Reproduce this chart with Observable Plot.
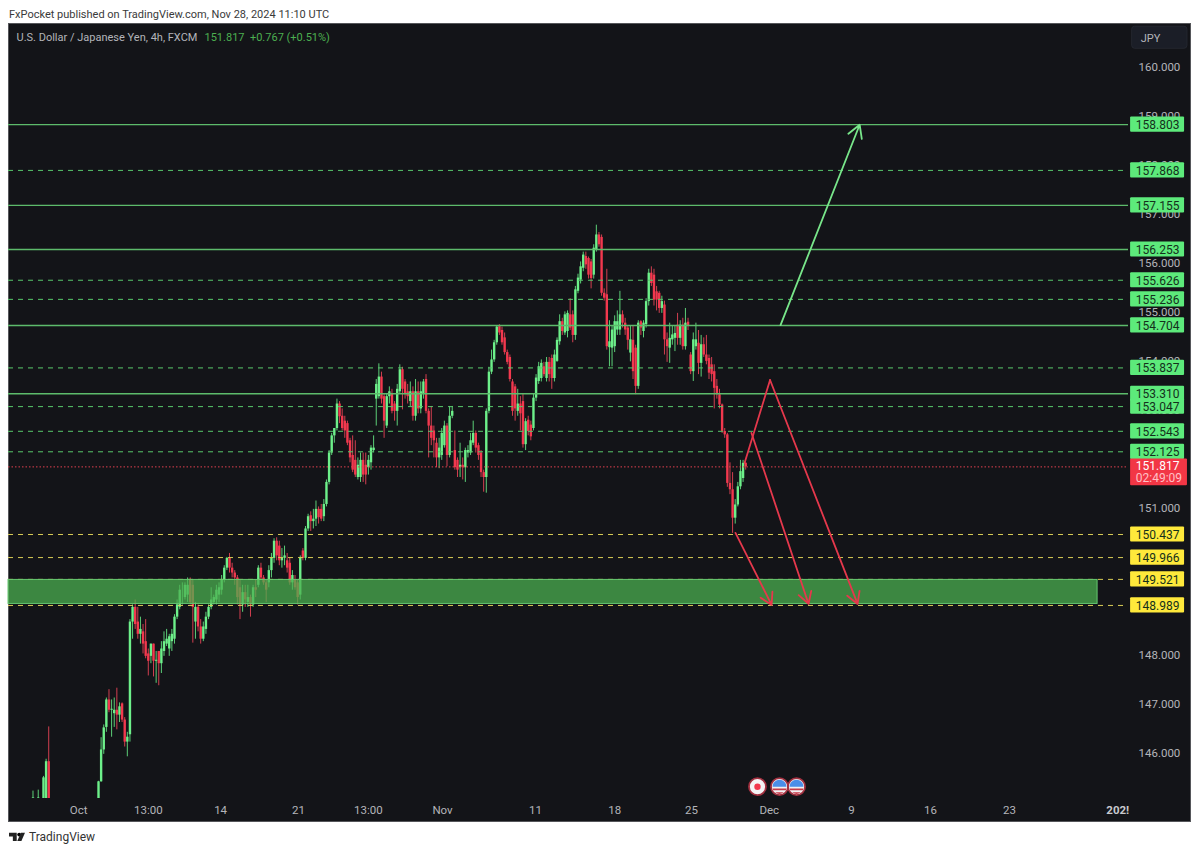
<!DOCTYPE html>
<html>
<head>
<meta charset="utf-8">
<script src="https://cdn.jsdelivr.net/npm/d3@7"></script>
<script src="https://cdn.jsdelivr.net/npm/@observablehq/plot@0.6"></script>
<style>
html,body{margin:0;padding:0;background:#fff;overflow:hidden;width:1200px;height:853px;font-family:Roboto,"Noto Sans",sans-serif}
#head{height:23px;line-height:30px;padding-left:9px;font-size:11px;color:#3a3a3a;box-sizing:border-box;white-space:nowrap}
#chart{margin-left:8px;width:1183px;height:799px}
#chart svg{display:block}
#foot{height:31px;display:flex;align-items:center;padding-left:9px;font-size:12px;color:#333;gap:4px;box-sizing:border-box;padding-bottom:2px}
</style>
</head>
<body>
<div id="head">FxPocket published on TradingView.com, Nov 28, 2024 11:10 UTC</div>
<div id="chart"></div>
<div id="foot"><svg width="16" height="9" viewBox="0 0 29 16"><path fill="#222" d="M0 1h14v15H7V8H0z"/><circle cx="18.5" cy="4.5" r="3.5"/><path fill="#222" d="M15 16 21.5 1H29l-6.5 15z"/></svg><span>TradingView</span></div>
<script>
// bar numbers (4h bars); the bars between 7 and 24 lie under the visible range
const barIndex = [0,2,4,5,6, ...d3.range(25,273)];
const opens = [144.9,144.9,144.9,144.9,145.8,
144.9,145.39,146.04,146.5,147.06,146.85,146.78,146.85,146.75,146.98,
146.65,146.2,146.35,148.65,148.95,148.65,148.4,148.45,148.25,148.0,
147.95,148.2,147.85,148.05,147.8,148.05,148.2,148.1,148.25,148.3,
148.75,148.95,149.3,149.15,149.2,149.5,149.4,148.65,148.95,148.55,
148.3,148.5,148.75,148.95,149.05,149.1,149.2,149.3,149.5,149.75,
149.95,149.75,149.65,149.55,149.35,149.0,149.25,149.05,149.15,149.0,
149.35,149.4,149.75,149.55,149.45,149.45,149.7,149.95,150.3,150.2,
149.9,149.95,149.9,149.85,149.45,149.5,149.45,149.2,150.1,149.95,
150.55,150.82,150.7,150.75,150.95,150.95,150.8,151.05,151.5,152.1,
152.45,152.6,153.1,152.85,152.75,152.7,152.35,152.05,151.95,151.6,
151.6,151.95,151.85,151.8,151.9,152.15,153.2,153.25,153.65,153.25,
152.65,153.25,153.3,153.1,152.95,153.35,153.8,153.55,153.35,153.15,
153.35,152.85,153.35,153.0,153.3,153.6,152.95,152.65,152.55,152.3,
152.0,152.05,152.25,152.65,152.05,152.85,152.15,151.95,151.8,151.85,
151.8,152.1,152.1,152.3,152.5,152.25,152.1,151.7,151.6,152.95,
153.75,154.0,154.35,154.68,154.6,154.45,154.15,154.05,153.55,153.45,
152.95,153.1,153.15,152.27,152.77,152.67,152.6,153.22,153.56,153.62,
153.86,153.62,153.95,154.03,153.62,153.97,154.37,154.78,154.55,154.58,
154.92,154.92,154.5,155.4,155.63,155.87,156.11,156.07,156.0,155.73,
156.25,156.55,156.5,155.36,155.33,154.25,154.24,154.27,154.61,154.61,
154.92,154.75,154.65,154.14,154.4,154.24,153.46,154.78,154.58,154.72,
155.19,155.77,155.73,155.39,155.36,155.05,155.12,154.41,154.24,154.41,
154.44,154.71,154.44,154.71,154.27,154.77,154.1,153.76,154.27,154.34,
153.93,154.31,154.1,154.03,153.9,153.76,153.46,153.29,153.08,152.54,
152.47,151.48,151.35,150.77,151.04,151.41,151.58,151.89];
const highs = [145.2,145.22,145.5,145.85,146.51,
145.4,146.29,146.55,147.1,147.27,147.06,147.1,147.3,147.0,147.0,
146.7,146.4,148.7,149.0,149.1,148.95,148.75,148.6,148.7,148.1,
148.2,148.2,148.05,148.05,148.25,148.45,148.5,148.4,148.5,148.8,
149.1,149.4,149.45,149.45,149.55,149.55,149.5,149.05,149.0,148.7,
148.65,148.85,149.0,149.35,149.2,149.4,149.45,149.6,149.8,149.97,
150.05,149.85,149.7,149.6,149.5,149.4,149.4,149.4,149.2,149.4,
149.5,149.8,149.85,149.6,149.5,149.8,150.05,150.35,150.37,150.3,
150.15,150.2,150.05,149.95,149.7,149.6,149.5,150.0,150.15,150.6,
150.85,150.9,150.95,151.12,151.0,151.05,151.15,151.55,152.15,152.5,
152.6,153.2,153.15,153.0,152.85,152.75,152.4,152.45,152.35,152.0,
152.1,152.1,152.1,152.05,152.25,152.45,153.6,153.92,153.75,153.3,
153.3,153.45,153.4,153.15,153.5,153.9,153.85,153.6,153.5,153.55,
153.45,153.6,153.55,153.55,153.6,153.7,153.0,153.05,152.65,152.4,
152.4,152.6,152.75,152.7,153.05,153.05,152.55,152.0,152.3,152.0,
152.2,152.25,152.5,152.75,152.55,152.3,152.15,151.75,153.0,153.85,
154.2,154.4,154.7,154.72,154.67,154.55,154.2,154.1,153.6,153.5,
153.4,153.25,153.3,152.8,152.85,152.75,153.3,153.7,153.95,154.0,
153.95,154.05,154.05,154.1,154.2,154.45,154.92,154.85,154.98,155.0,
155.25,155.0,155.5,155.75,156.0,156.2,156.2,156.1,156.05,156.35,
156.75,156.6,156.55,155.45,155.85,154.8,154.7,154.9,155.0,155.4,
155.0,154.85,154.7,154.7,154.7,154.3,154.8,154.8,154.8,155.25,
155.85,155.9,155.85,155.5,155.4,155.3,155.2,154.55,154.75,154.7,
154.7,154.95,154.8,154.85,155.05,154.85,154.15,154.55,154.75,154.6,
154.5,154.45,154.5,154.1,154.05,153.9,153.6,153.4,153.1,152.6,
152.5,151.9,151.7,151.15,151.5,151.95,151.95,151.9];
const lows = [144.8,144.8,144.8,144.8,144.8,
144.8,145.38,145.95,146.4,146.8,146.3,146.5,146.45,146.6,146.6,
146.1,145.9,146.2,148.3,148.5,148.3,148.2,148.0,147.9,147.55,
147.8,147.53,147.4,147.35,147.6,147.95,148.15,147.95,148.05,148.2,
148.7,148.9,149.0,149.1,149.05,149.0,148.22,148.3,148.45,148.2,
148.25,148.4,148.7,148.9,149.0,149.0,149.05,149.2,149.45,149.7,
149.65,149.55,149.4,149.0,148.7,148.85,148.95,148.95,148.75,148.95,
149.15,149.35,149.5,149.4,149.05,149.35,149.55,149.85,149.9,149.8,
149.75,149.8,149.65,149.4,149.3,149.3,149.0,149.1,149.9,149.9,
150.5,150.5,150.55,150.6,150.65,150.7,150.7,151.0,151.45,152.05,
152.3,152.55,152.7,152.55,152.4,152.25,151.9,151.7,151.6,151.55,
151.5,151.5,151.45,151.65,151.75,152.1,152.65,153.2,153.1,152.4,
152.6,153.1,152.9,152.75,152.65,153.3,152.98,153.2,153.1,153.05,
152.75,152.75,152.9,152.9,153.2,152.9,152.0,152.25,152.0,151.8,
151.78,151.95,152.2,151.82,152.0,152.8,151.75,151.6,151.6,151.55,
151.5,152.0,152.05,152.25,152.1,151.95,151.6,151.3,151.28,152.9,
153.7,153.95,154.3,154.5,154.3,154.1,153.9,153.55,152.85,152.75,
152.85,152.55,152.2,152.15,152.45,152.35,152.55,153.15,153.5,153.55,
153.65,153.55,153.55,153.4,153.55,153.95,154.3,154.5,154.5,154.45,
154.6,154.35,154.4,155.35,155.55,155.8,155.85,155.65,155.45,155.65,
156.2,156.3,155.3,155.2,154.2,153.86,153.86,154.15,154.5,154.5,
154.65,154.5,154.2,153.96,153.6,153.29,153.4,154.5,154.45,154.65,
155.1,155.5,155.1,155.0,154.95,154.95,154.1,153.95,153.93,154.3,
154.17,154.3,154.3,154.2,154.2,154.6,153.7,153.56,154.2,153.7,
153.65,154.05,153.9,153.6,153.55,153.0,153.2,153.0,152.5,152.4,
151.4,151.25,150.46,150.65,151.0,151.35,151.5,151.75];
const closes = [145.06,145.06,145.47,145.8,144.9,
145.39,146.04,146.49,147.06,146.85,146.87,146.85,146.75,146.92,146.65,
146.2,146.3,148.65,148.95,148.6,148.4,148.5,148.2,147.95,147.85,
148.2,147.85,147.87,147.8,148.1,148.25,148.3,148.35,148.4,148.75,
149.0,149.3,149.3,149.4,149.4,149.05,148.95,148.95,148.55,148.3,
148.55,148.75,148.95,149.1,149.15,149.3,149.35,149.5,149.75,149.95,
149.75,149.65,149.55,149.15,149.0,149.25,149.1,149.15,149.0,149.35,
149.3,149.75,149.55,149.45,149.3,149.7,149.95,150.3,150.0,149.9,
149.95,150.0,149.75,149.45,149.6,149.35,149.15,149.95,149.95,150.55,
150.8,150.7,150.75,150.95,150.78,150.75,151.05,151.5,152.1,152.45,
152.6,153.1,152.84,152.6,152.55,152.3,152.0,151.75,151.65,151.85,
151.95,151.65,151.65,151.95,152.2,152.2,153.5,153.65,153.2,152.75,
153.25,153.35,152.95,152.95,153.4,153.8,153.4,153.3,153.25,153.35,
152.85,153.35,153.0,153.35,153.55,152.95,152.65,152.4,152.35,152.0,
152.2,152.5,152.65,152.05,152.85,152.95,151.8,151.75,151.85,151.8,
152.15,152.15,152.35,152.5,152.2,152.05,151.7,151.6,152.95,153.75,
154.0,154.35,154.67,154.55,154.35,154.15,153.95,153.6,152.95,153.0,
153.1,152.9,152.27,152.74,152.54,152.43,153.22,153.63,153.86,153.93,
153.7,153.95,153.7,153.62,154.1,154.4,154.78,154.58,154.92,154.95,
154.65,154.5,155.43,155.67,155.9,156.14,155.94,155.73,155.66,156.28,
156.55,156.35,155.36,155.26,154.27,154.37,154.61,154.78,154.78,154.92,
154.75,154.61,154.4,154.41,153.76,153.46,154.75,154.65,154.75,155.19,
155.77,155.56,155.22,155.22,155.05,155.19,154.41,154.27,154.44,154.51,
154.54,154.44,154.71,154.27,154.75,154.7,153.76,154.41,154.41,153.93,
154.31,154.1,153.97,153.73,153.7,153.42,153.29,153.08,152.54,152.47,
151.48,151.35,150.77,151.04,151.41,151.72,151.89,151.817];

const solidGreen = [158.803,157.155,156.253,154.704,153.310];
const dashedGreen = [157.868,155.626,155.236,153.837,153.047,152.543,152.125];
const dashedYellow = [150.437,149.966,149.521,148.989];
const lastPrice = 151.817;
const countdown = "02:49:09";
const priceTicks = d3.range(146,161);
const timeTickBars = [17.4,44,71.6,101.3,128,156.3,191.8,222,251.3,281,312.4,342.5,372.7];
const timeTickLabels = ["Oct","13:00","14","21","13:00","Nov","11","18","25","Dec","9","16","23"];
const yearTickBar = [414];
const yearTickLabel = "202!";
const legendName = "U.S. Dollar / Japanese Yen, 4h, FXCM";
const legendQuote = "151.817  +0.767 (+0.51%)";
const currency = "JPY";

// drawings: [bar1, price1, bar2, price2]
const greenArrows = [[285.3,154.71,315.5,158.8]];
const redRise = [[271.6,151.9],[281.3,153.59]];
const redArrows = [[281.3,153.59,314.7,149.02],[274.2,152.51,296,149.02],[268.1,150.47,281.9,149.0]];
const zone = {bar1:-9.35, bar2:406.3, p1:149.02, p2:149.51};
const eventJapan = [276.5];
const eventUS = [284.9,291.4];
const eventPrice = 145.29;

const bars = barIndex.map((i,k)=>({i,open:opens[k],high:highs[k],low:lows[k],close:closes[k]}));
const upBars = bars.filter(d=>d.close>=d.open), downBars = bars.filter(d=>d.close<d.open);

const GREEN="#6df08a", RED="#f2384e", LINE="#5dbb6b", YEL="#ffe93b", MINT="#5dea7b", TXT="#b4b5ba", BG="#131418", FONT="Roboto,'Noto Sans',sans-serif";
const boxBars=[418.9,439.5], labelBar=429.2, half=0.155;

const greenLevels=[...solidGreen,...dashedGreen];
const halfUp={draw(c,s){const r=Math.sqrt(s/Math.PI);c.moveTo(-r,0);c.arc(0,0,r,Math.PI,2*Math.PI);c.closePath();}};
const stripes={draw(c,s){const r=Math.sqrt(s/Math.PI);c.moveTo(r*.62,r*.78);c.arc(0,0,r,Math.PI*.29,Math.PI*.71);c.closePath();c.rect(-r*.95,r*.25,r*1.9,r*.25);}};

const fig = Plot.plot({
  width:1183,height:799,marginLeft:0,marginRight:63,marginTop:0,marginBottom:24,
  style:{background:BG,fontFamily:FONT,overflow:"visible",boxShadow:"inset 0 0 0 1px #55565a"},
  x:{type:"linear",domain:[-9.35,418.1],axis:null},
  y:{type:"linear",domain:[145.049,160.866],axis:null},
  marks:[
    Plot.axisY({anchor:"right",ticks:priceTicks,tickSize:0,tickPadding:10,dy:1.5,tickFormat:d=>d.toFixed(3),label:null,fill:TXT,fontSize:11.5}),
    Plot.axisX({anchor:"bottom",ticks:timeTickBars,tickSize:0,tickPadding:7,tickFormat:d=>timeTickLabels[timeTickBars.indexOf(d)],label:null,fill:TXT,fontSize:11.5}),
    Plot.axisX({anchor:"bottom",ticks:yearTickBar,tickSize:0,tickPadding:7,tickFormat:()=>yearTickLabel,label:null,fill:"#c8c9cd",fontSize:11.5,fontWeight:700}),

    Plot.ruleX(upBars,{x:"i",y1:"low",y2:"high",stroke:"#5ccf78",strokeWidth:1,clip:true}),
    Plot.ruleX(downBars,{x:"i",y1:"low",y2:"high",stroke:"#d23f50",strokeWidth:1,clip:true}),
    Plot.ruleX(upBars,{x:"i",y1:"open",y2:"close",stroke:GREEN,strokeWidth:2.4,clip:true}),
    Plot.ruleX(downBars,{x:"i",y1:"open",y2:"close",stroke:RED,strokeWidth:2.4,clip:true}),

    Plot.ruleY(solidGreen,{stroke:LINE,strokeWidth:1.4}),
    Plot.ruleY(dashedGreen,{stroke:"#58c96c",strokeWidth:1,strokeDasharray:"5 5"}),
    Plot.ruleY(dashedYellow,{stroke:"#d8cc55",strokeWidth:1,strokeDasharray:"5 5"}),
    Plot.ruleY([lastPrice],{stroke:"#e0404f",strokeWidth:1,strokeDasharray:"1.5 2"}),

    Plot.rect([zone],{x1:"bar1",x2:"bar2",y1:"p1",y2:"p2",fill:"#4caf50",fillOpacity:.74,stroke:"#66c870",strokeWidth:1}),

    Plot.arrow(greenArrows,{x1:d=>d[0],y1:d=>d[1],x2:d=>d[2],y2:d=>d[3],stroke:"#78e68a",strokeWidth:1.8,headLength:12,bend:0}),
    Plot.line(redRise,{x:d=>d[0],y:d=>d[1],stroke:"#e5384c",strokeWidth:1.8}),
    Plot.arrow(redArrows,{x1:d=>d[0],y1:d=>d[1],x2:d=>d[2],y2:d=>d[3],stroke:"#e5384c",strokeWidth:1.8,headLength:11,bend:0}),

    Plot.dot(eventJapan,{x:d=>d,y:()=>eventPrice,r:8.5,fill:"#f4f4f6",stroke:"#a33140",strokeWidth:1.8}),
    Plot.dot(eventJapan,{x:d=>d,y:()=>eventPrice,r:3.2,fill:"#f2384e"}),
    ...eventUS.flatMap(b=>[
      Plot.dot([b],{x:d=>d,y:()=>eventPrice,r:8.5,fill:"#f0f0f2",stroke:"#a33140",strokeWidth:1.8}),
      Plot.dot([b],{x:d=>d,y:()=>eventPrice,r:7,symbol:halfUp,fill:"#4a8ee8"}),
      Plot.dot([b],{x:d=>d,y:()=>eventPrice,r:7,symbol:stripes,fill:"#c83a48"})
    ]),

    Plot.rect(greenLevels,{x1:()=>boxBars[0],x2:()=>boxBars[1],y1:d=>d-half,y2:d=>d+half,fill:MINT,rx:1}),
    Plot.rect(dashedYellow,{x1:()=>boxBars[0],x2:()=>boxBars[1],y1:d=>d-half,y2:d=>d+half,fill:YEL,rx:1}),
    Plot.rect([lastPrice],{x1:()=>boxBars[0],x2:()=>440.6,y1:()=>151.43,y2:()=>151.98,fill:"#f23645",rx:1}),
    Plot.text([...greenLevels,...dashedYellow],{x:()=>labelBar,y:d=>d,dy:.5,text:d=>d.toFixed(3),fill:"#14301c",fontSize:12}),
    Plot.text([lastPrice],{x:()=>labelBar,y:()=>151.84,text:d=>d.toFixed(3),fill:"#fff",fontSize:12}),
    Plot.text([countdown],{x:()=>labelBar+.5,y:()=>151.59,text:d=>d,fill:"#ffc0c6",fontSize:12}),

    Plot.rect([currency],{x1:()=>419.5,x2:()=>440.6,y1:()=>160.35,y2:()=>160.8,fill:"#1b1e27",stroke:"#24272f",rx:3}),
    Plot.text([currency],{x:()=>426.5,y:()=>160.57,text:d=>d,fill:TXT,fontSize:11}),

    Plot.text([legendName],{frameAnchor:"top-left",dx:8,dy:10,text:d=>d,fill:TXT,fontSize:11}),
    Plot.text([legendQuote],{frameAnchor:"top-left",dx:196,dy:10,text:d=>d,fill:"#4caf50",fontSize:11})
  ]
});
document.getElementById("chart").appendChild(fig);
</script>
</body>
</html>
